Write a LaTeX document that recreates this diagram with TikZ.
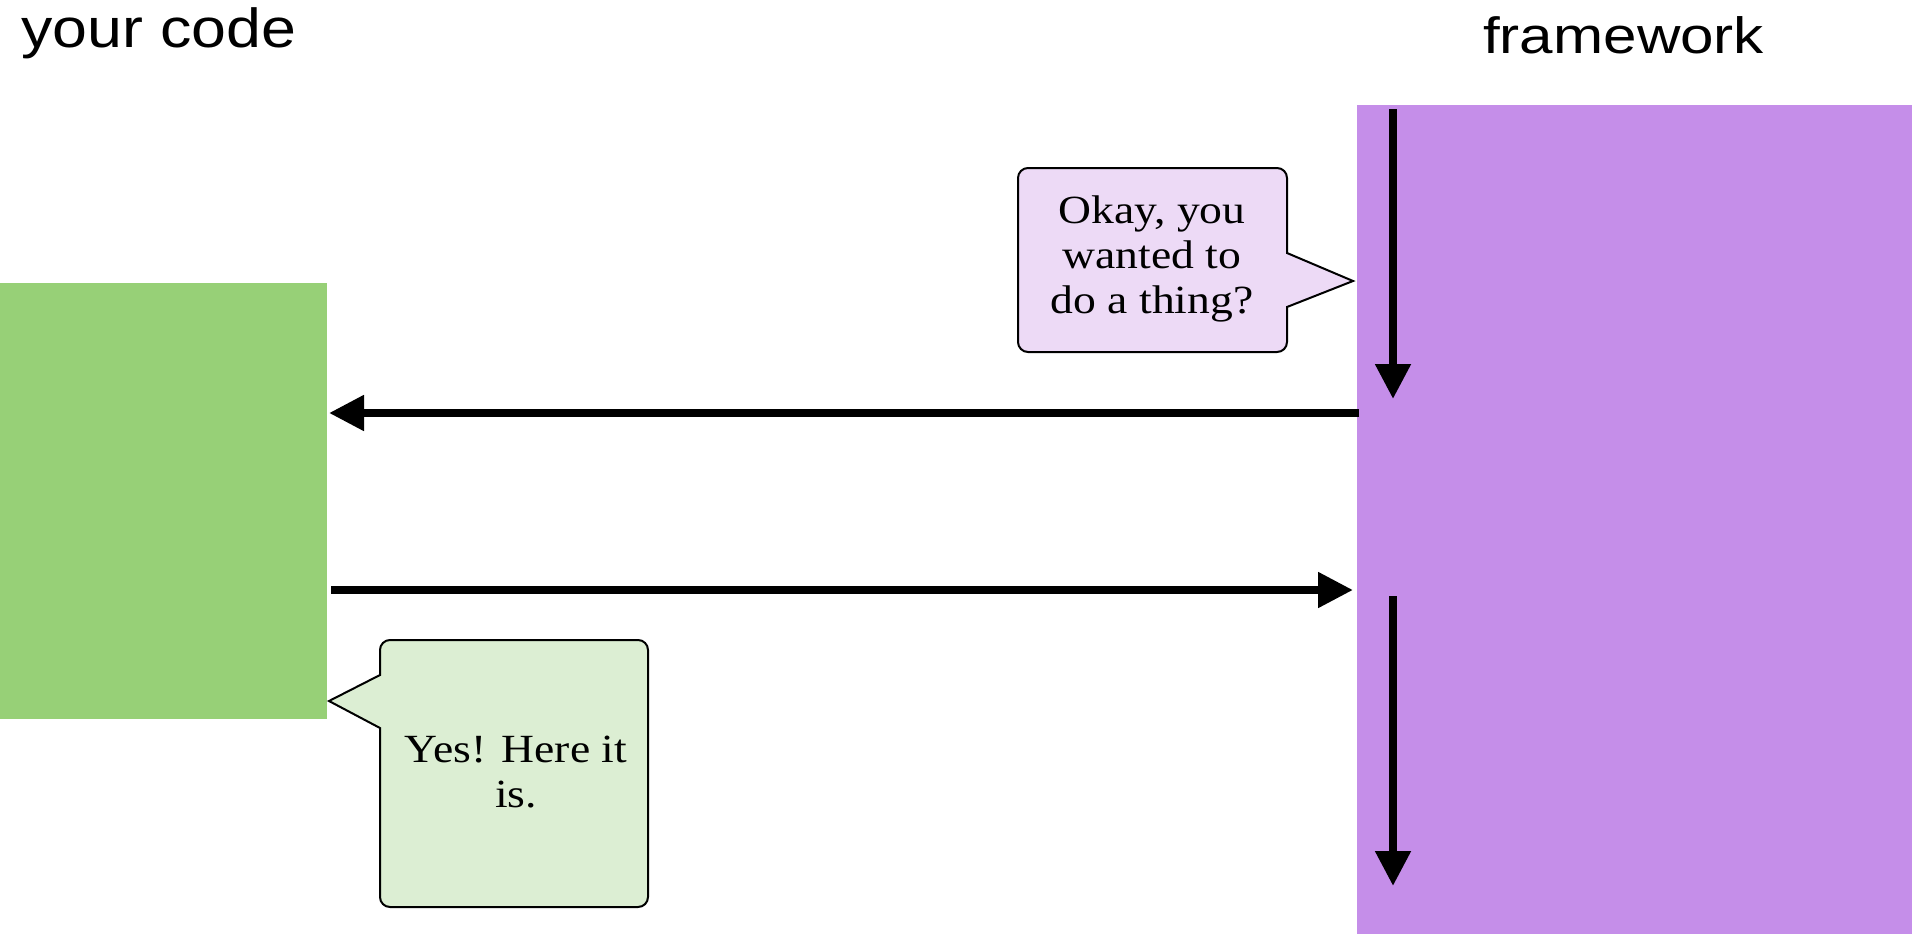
\documentclass[tikz,border=0pt]{standalone}
\usepackage{fontspec}
\setmainfont{Liberation Serif}
\newfontfamily\labelfont{Liberation Sans}
\usetikzlibrary{arrows.meta}
\definecolor{codegreen}{HTML}{97D077}
\definecolor{fwpurple}{HTML}{C58EE9}
\definecolor{bubblepurple}{HTML}{EDDAF6}
\definecolor{bubblegreen}{HTML}{DCEED3}
\tikzset{
  block/.style={inner sep=0pt, outer sep=0pt, anchor=north west},
  flow/.style={line width=8pt, -{Triangle[length=35pt,width=34pt]}},
  bubble/.style={draw=black, line width=2pt, line join=miter},
  title/.style={anchor=base west, inner sep=0pt},
  saying/.style={inner sep=0pt, font=\fontsize{40}{45}\selectfont}
}
\begin{document}
\begin{tikzpicture}[x=1pt,y=-1pt]
\useasboundingbox (0,0) rectangle (1918,934);
% titles
\node[title, font=\labelfont\fontsize{55}{60}\selectfont] (tcode) at (21,48) {\scalebox{1.14}[1]{your code}};
\node[title, font=\labelfont\fontsize{51}{60}\selectfont] (tfw) at (1483,53) {\scalebox{1.18}[1]{framework}};
% blocks
\node[block, fill=codegreen, minimum width=327pt, minimum height=436pt] (code) at (0,283) {};
\node[block, fill=fwpurple, minimum width=555pt, minimum height=829pt] (fw) at (1357,105) {};
% coordinates for arrows
\coordinate (d1s) at (1393,109);
\coordinate (d1e) at (1393,399);
\coordinate (d2s) at (1393,596);
\coordinate (d2e) at (1393,886);
\coordinate (ls) at (1359,413);
\coordinate (le) at (329,413);
\coordinate (rs) at (331,590);
\coordinate (re) at (1353,590);
\draw[flow] (d1s) -- (d1e);
\draw[flow] (d2s) -- (d2e);
\draw[flow] (ls) -- (le);
\draw[flow] (rs) -- (re);
% purple speech bubble
\draw[bubble, fill=bubblepurple]
  (1150,168) [rounded corners=10pt] -- (1287,168) [sharp corners] -- (1287,253)
  -- (1353,281) -- (1287,307) [rounded corners=10pt] -- (1287,352)
  -- (1018,352) -- (1018,168) -- cycle;
\node[saying, align=center] (q) at (1152,259)
  {\scalebox{1.14}[1]{Okay, you}\\\scalebox{1.14}[1]{wanted to}\\\scalebox{1.14}[1]{do a thing?}};
% green speech bubble
\draw[bubble, fill=bubblegreen]
  (514,640) [rounded corners=10pt] -- (648,640) -- (648,907) -- (380,907) [sharp corners]
  -- (380,728) -- (329,701) -- (380,675) [rounded corners=10pt]
  -- (380,640) -- cycle;
\node[saying, align=center] (a) at (516,772)
  {\scalebox{1.14}[1]{Yes! Here it}\\\scalebox{1.14}[1]{is.}};
\end{tikzpicture}
\end{document}
